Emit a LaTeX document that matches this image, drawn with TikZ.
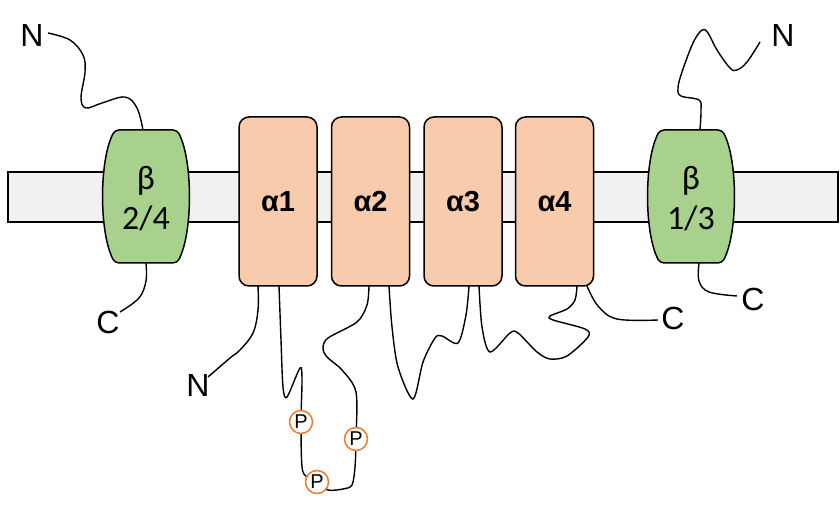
\documentclass[tikz,border=0pt]{standalone}
\usepackage{fontspec}
\setmainfont{Liberation Sans}
\newfontfamily\calfont{Carlito}
\begin{document}
\begin{tikzpicture}[x=1pt,y=-1pt,
  membrane/.style={draw=black,fill=memgray,line width=1.5pt},
  alphabox/.style={draw=black,fill=alphafill,line width=1.5pt,rounded corners=10pt,minimum width=78pt,minimum height=169pt,inner sep=0pt,font=\fontsize{29}{29}\selectfont\bfseries},
  betabox/.style={draw=black,fill=betafill,line width=1.5pt},
  betatext/.style={font=\calfont\fontsize{34}{40}\selectfont,align=center,inner sep=0pt},
  strand/.style={draw=black,line width=1.4pt},
  term/.style={font=\fontsize{32}{32}\selectfont,inner sep=0pt},
  phos/.style={circle,draw=porange,fill=white,line width=1.5pt,minimum size=23pt,inner sep=0pt,font=\fontsize{20}{20}\selectfont}
]
\definecolor{memgray}{HTML}{F1F1F1}
\definecolor{alphafill}{HTML}{F8CBAD}
\definecolor{betafill}{HTML}{A9D18E}
\definecolor{porange}{HTML}{EE7D2B}
\useasboundingbox (0,0) rectangle (840,510);

% membrane
\draw[membrane] (8,172) rectangle (838,222);

% beta subunits
\draw[betabox,rounded corners=4pt] (146,130) -- (177,130) .. controls (193,160) and (193,233) .. (177,263)
  -- (115,263) .. controls (99,233) and (99,160) .. (115,130) -- cycle;
\node[betatext] (b24) at (146,199) {β\\2/4};
\draw[betabox,rounded corners=4pt] (691,130) -- (722,130) .. controls (738,160) and (738,233) .. (722,263)
  -- (660,263) .. controls (644,233) and (644,160) .. (660,130) -- cycle;
\node[betatext] (b13) at (691,199) {β\\1/3};

% alpha subunits
\node[alphabox] (a1) at (278,201.5) {α1};
\node[alphabox] (a2) at (370.5,201.5) {α2};
\node[alphabox] (a3) at (463,201.5) {α3};
\node[alphabox] (a4) at (554.5,201.5) {α4};

% terminal labels
\node[term] (nL) at (32,35) {N};
\node[term] (cL) at (108,322) {C};
\node[term] (nA) at (198,385) {N};
\node[term] (cA) at (673,318) {C};
\node[term] (cR) at (753,299) {C};
\node[term] (nR) at (783,35) {N};

% attachment coordinates
\coordinate (bLt) at (143,130);
\coordinate (bLb) at (146,263);
\coordinate (bRt) at (700,130);
\coordinate (bRb) at (699,263);
\coordinate (a1l) at (258,286);
\coordinate (a1r) at (279,286);
\coordinate (a2l) at (369,286);
\coordinate (a2r) at (389,286);
\coordinate (a3l) at (469,286);
\coordinate (a3r) at (479,286);
\coordinate (a4l) at (577,286);
\coordinate (a4r) at (587,286);
\coordinate (nLe) at (48,33);
\coordinate (cLe) at (120,312);
\coordinate (nAe) at (208,377);
\coordinate (cAe) at (658,320);
\coordinate (cRe) at (737,296);
\coordinate (nRe) at (760,42);

% phosphorylation sites
\coordinate (P1) at (301,422);
\coordinate (P2) at (317,482);
\coordinate (P3) at (356,439);

% strands
\draw[strand] plot[smooth,tension=0.6] coordinates {(nLe) (70,40) (83,55) (85,72) (81,98) (86,108) (102,103) (125,97) (137,108) (bLt)};
\draw[strand] plot[smooth,tension=0.6] coordinates {(bLb) (146,281) (139,298) (cLe)};
\draw[strand] plot[smooth,tension=0.6] coordinates {(bRt) (701,110) (699,100) (681,96) (678,88) (682,72) (693,43) (702,30) (708,33) (717,50) (730,68) (737,70) (747,62) (nRe)};
\draw[strand] plot[smooth,tension=0.6] coordinates {(bRb) (699,281) (709,292) (cRe)};
\draw[strand] plot[smooth,tension=0.6] coordinates {(a1l) (258,310) (253,333) (240,350) (230,358) (nAe)};
\draw[strand] plot[smooth,tension=0.5] coordinates {(a1r) (281,340) (283,387) (287,397) (300,368) (302,380) (P1) (302,467) (307,477) (P2) (328,490) (343,489) (352,485) (355,467) (P3) (356,392) (342,370) (327,357) (323,348) (328,338) (357,322) (367,305) (a2l)};
\draw[strand] plot[smooth,tension=0.5] coordinates {(a2r) (392,327) (398,367) (413,399) (423,362) (435,338) (442,336) (458,343) (466,315) (a3l)};
\draw[strand] plot[smooth,tension=0.5] coordinates {(a3r) (482,327) (490,352) (510,333) (518,333) (537,352) (550,359) (567,356) (588,337) (585,329) (553,320) (550,316) (567,309) (575,300) (a4l)};
\draw[strand] plot[smooth,tension=0.6] coordinates {(a4r) (598,306) (617,319) (cAe)};

\node[phos] (p1) at (P1) {P};
\node[phos] (p2) at (P2) {P};
\node[phos] (p3) at (P3) {P};
\end{tikzpicture}
\end{document}
